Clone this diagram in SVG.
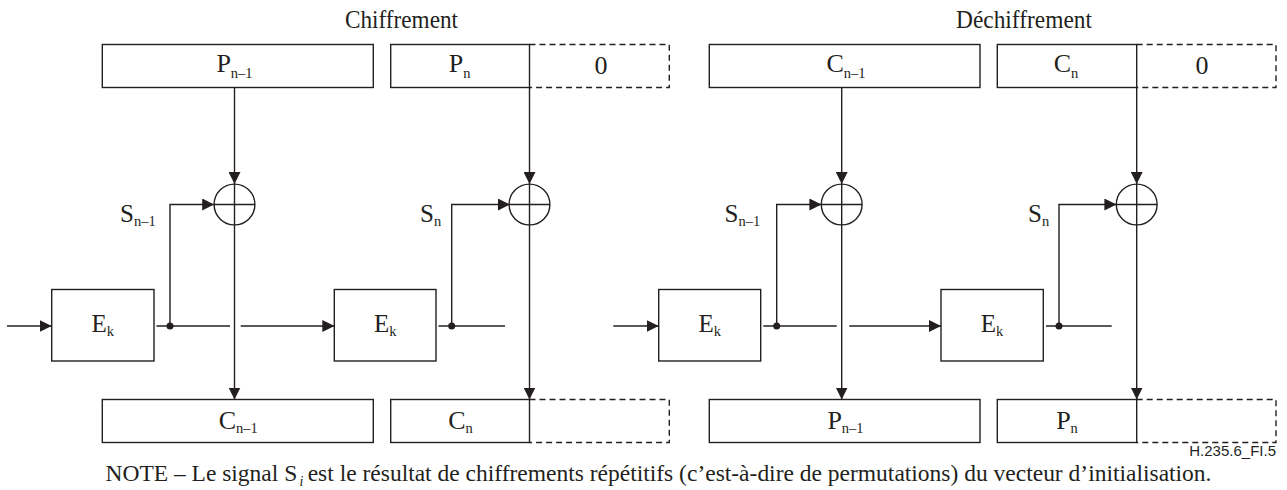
<svg xmlns="http://www.w3.org/2000/svg" width="1287" height="490" viewBox="0 0 1287 490">
<style>
.bx{fill:#ffffff;stroke:#231f20;stroke-width:1.4}
.ds{fill:none;stroke:#231f20;stroke-width:1.4;stroke-dasharray:6,4}
.ln{fill:none;stroke:#231f20;stroke-width:1.4}
.ar{fill:none;stroke:#231f20;stroke-width:1.4;marker-end:url(#ah)}
.dot{fill:#231f20}
.xo{fill:#ffffff;stroke:#231f20;stroke-width:1.4}
.t{font-family:"Liberation Serif","Times New Roman",serif;font-size:26px;fill:#231f20}
.e{font-size:25px}
.c{text-anchor:middle}
.sub{font-size:14.5px}
.n{font-size:23.4px}
.fi{font-family:"Liberation Sans",Arial,sans-serif;font-size:15px;fill:#231f20;text-anchor:end}
</style>
<defs>
<marker id="ah" viewBox="0 0 12 12" refX="12" refY="6" markerWidth="12" markerHeight="12" markerUnits="userSpaceOnUse" orient="auto">
<path d="M0,0 L12,6 L0,12 z" fill="#231f20"/>
</marker>
</defs>

<text class="t" style="font-size:25px" x="345" y="28" textLength="113" lengthAdjust="spacingAndGlyphs">Chiffrement</text>
<text class="t" style="font-size:25px" x="956" y="28" textLength="136" lengthAdjust="spacingAndGlyphs">Déchiffrement</text>

<g id="connectors">
<line class="ar" x1="234.5" y1="87.5" x2="234.5" y2="184"/>
<line class="ar" x1="234.5" y1="225" x2="234.5" y2="399.5"/>
<line class="ar" x1="7" y1="326" x2="51.7" y2="326"/>
<line class="ln" x1="156.5" y1="326" x2="230" y2="326"/>
<line class="ar" x1="240.7" y1="326" x2="334.3" y2="326"/>
<polyline class="ar" points="170,326 170,204.5 214.2,204.5"/>
<line class="ln" x1="438.5" y1="326" x2="505" y2="326"/>
<polyline class="ar" points="451.7,326 451.7,204.5 509.9,204.5"/>
<line class="ar" x1="529.5" y1="87.5" x2="529.5" y2="184"/>
<line class="ar" x1="529.5" y1="225" x2="529.5" y2="399.5"/>
<line class="ar" x1="841.7" y1="87.5" x2="841.7" y2="184"/>
<line class="ar" x1="841.7" y1="225" x2="841.7" y2="399.5"/>
<line class="ar" x1="613.3" y1="326" x2="658.7" y2="326"/>
<line class="ln" x1="763.3" y1="326" x2="836.7" y2="326"/>
<line class="ar" x1="849.3" y1="326" x2="941" y2="326"/>
<polyline class="ar" points="776.7,326 776.7,204.5 821.4,204.5"/>
<line class="ln" x1="1046" y1="326" x2="1111.7" y2="326"/>
<polyline class="ar" points="1059,326 1059,204.5 1116.4,204.5"/>
<line class="ar" x1="1136.7" y1="87.5" x2="1136.7" y2="184"/>
<line class="ar" x1="1136.7" y1="225" x2="1136.7" y2="399.5"/>
<circle class="dot" cx="170" cy="326" r="3.5"/>
<circle class="dot" cx="451.7" cy="326" r="3.5"/>
<circle class="dot" cx="776.7" cy="326" r="3.5"/>
<circle class="dot" cx="1059" cy="326" r="3.5"/>
</g>

<g id="p_n1_top">
<rect class="bx" x="102.3" y="44.5" width="271" height="43"/>
<text class="t c" x="234.5" y="71.5">P<tspan class="sub" dy="6">n–1</tspan></text>
</g>
<g id="p_n_top">
<rect class="bx" x="390.7" y="44.5" width="138.8" height="43"/>
<text class="t c" x="459.7" y="71.5">P<tspan class="sub" dy="6">n</tspan></text>
</g>
<g id="pad_top_left">
<path class="ds" d="M529.5,44.5 H669.3 V87.5 H529.5"/>
<text class="t c" x="601" y="74">0</text>
</g>

<g id="xor1">
<circle class="xo" cx="234.5" cy="204.5" r="20.4"/>
<line class="ln" x1="214.1" y1="204.5" x2="254.9" y2="204.5"/>
<line class="ln" x1="234.5" y1="184.1" x2="234.5" y2="224.9"/>
</g>
<g id="xor2">
<circle class="xo" cx="529.5" cy="204.5" r="20.4"/>
<line class="ln" x1="509.1" y1="204.5" x2="549.9" y2="204.5"/>
<line class="ln" x1="529.5" y1="184.1" x2="529.5" y2="224.9"/>
</g>
<g id="s_labels_left">
<text class="t e" x="120" y="221.5">S<tspan class="sub" dy="4">n–1</tspan></text>
<text class="t e" x="420" y="221.5">S<tspan class="sub" dy="4">n</tspan></text>
</g>

<g id="ek1">
<rect class="bx" x="51.7" y="289.5" width="102.3" height="71.5"/>
<text class="t c e" x="102.8" y="331.5">E<tspan class="sub" dy="4.5">k</tspan></text>
</g>
<g id="ek2">
<rect class="bx" x="334.3" y="289.5" width="101.7" height="71.5"/>
<text class="t c e" x="385.2" y="331.5">E<tspan class="sub" dy="4.5">k</tspan></text>
</g>

<g id="c_n1_bottom">
<rect class="bx" x="102.3" y="399.5" width="271" height="43"/>
<text class="t c" x="238.3" y="428.5">C<tspan class="sub" dy="4">n–1</tspan></text>
</g>
<g id="c_n_bottom">
<rect class="bx" x="390.7" y="399.5" width="138.8" height="43"/>
<text class="t c" x="460.5" y="428.5">C<tspan class="sub" dy="4">n</tspan></text>
</g>
<g id="pad_bottom_left">
<path class="ds" d="M529.5,399.5 H669.3 V442.5 H529.5"/>
</g>

<g id="c_n1_top">
<rect class="bx" x="709.3" y="44.5" width="270.7" height="43"/>
<text class="t c" x="846" y="71.5">C<tspan class="sub" dy="6">n–1</tspan></text>
</g>
<g id="c_n_top">
<rect class="bx" x="997.3" y="44.5" width="139.4" height="43"/>
<text class="t c" x="1066" y="71.5">C<tspan class="sub" dy="6">n</tspan></text>
</g>
<g id="pad_top_right">
<path class="ds" d="M1136.7,44.5 H1276 V87.5 H1136.7"/>
<text class="t c" x="1202" y="74">0</text>
</g>

<g id="xor3">
<circle class="xo" cx="841.7" cy="204.5" r="20.4"/>
<line class="ln" x1="821.3" y1="204.5" x2="862.1" y2="204.5"/>
<line class="ln" x1="841.7" y1="184.1" x2="841.7" y2="224.9"/>
</g>
<g id="xor4">
<circle class="xo" cx="1136.7" cy="204.5" r="20.4"/>
<line class="ln" x1="1116.3" y1="204.5" x2="1157.1" y2="204.5"/>
<line class="ln" x1="1136.7" y1="184.1" x2="1136.7" y2="224.9"/>
</g>
<g id="s_labels_right">
<text class="t e" x="724.5" y="221.5">S<tspan class="sub" dy="4">n–1</tspan></text>
<text class="t e" x="1028" y="221.5">S<tspan class="sub" dy="4">n</tspan></text>
</g>

<g id="ek3">
<rect class="bx" x="658.7" y="289.5" width="102" height="71.5"/>
<text class="t c e" x="709.7" y="331.5">E<tspan class="sub" dy="4.5">k</tspan></text>
</g>
<g id="ek4">
<rect class="bx" x="941" y="289.5" width="102.3" height="71.5"/>
<text class="t c e" x="992" y="331.5">E<tspan class="sub" dy="4.5">k</tspan></text>
</g>

<g id="p_n1_bottom">
<rect class="bx" x="709.3" y="399.5" width="270.7" height="43"/>
<text class="t c" x="845.5" y="428.5">P<tspan class="sub" dy="4">n–1</tspan></text>
</g>
<g id="p_n_bottom">
<rect class="bx" x="997.3" y="399.5" width="139.4" height="43"/>
<text class="t c" x="1067" y="428.5">P<tspan class="sub" dy="4">n</tspan></text>
</g>
<g id="pad_bottom_right">
<path class="ds" d="M1136.7,399.5 H1276 V442.5 H1136.7"/>
</g>

<text class="fi" x="1276" y="456">H.235.6_FI.5</text>
<g id="note">
<text class="t n" x="105.5" y="481" textLength="191.7" lengthAdjust="spacingAndGlyphs">NOTE – Le signal S</text>
<text class="t" style="font-size:14px;font-style:italic" x="299.5" y="486">i</text>
<text class="t n" x="307.7" y="481" textLength="903.8" lengthAdjust="spacingAndGlyphs">est le résultat de chiffrements répétitifs (c’est-à-dire de permutations) du vecteur d’initialisation.</text>
</g>
</svg>
